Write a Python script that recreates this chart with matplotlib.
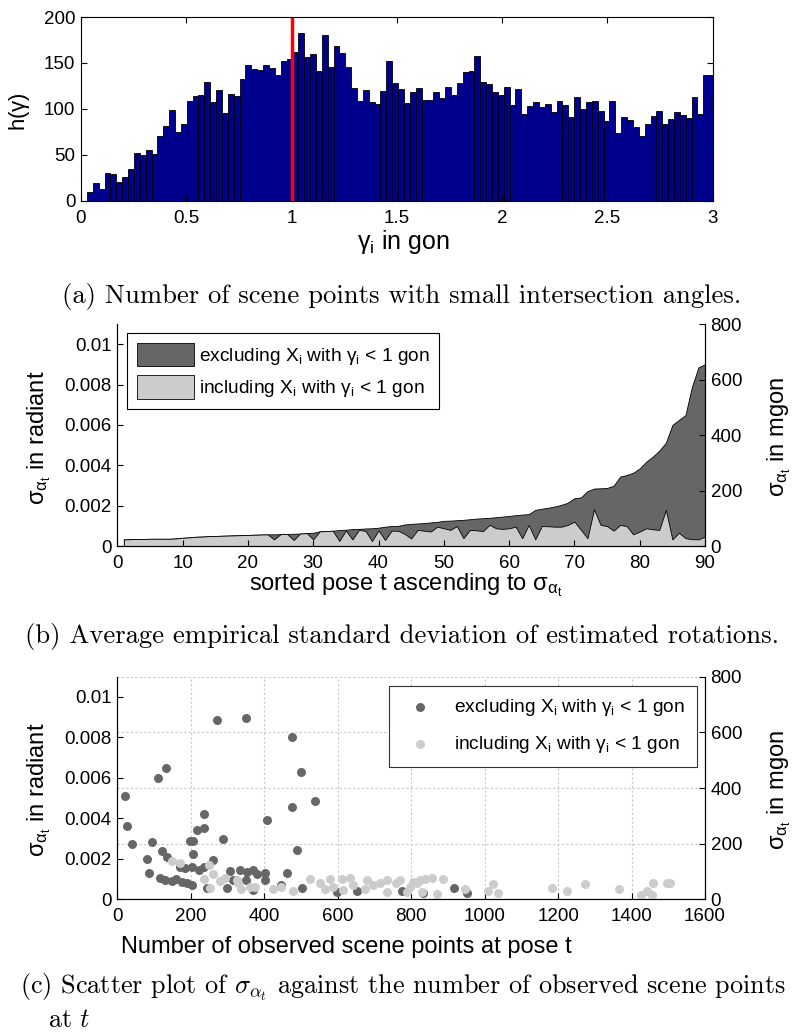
import numpy as np
import matplotlib
matplotlib.use('Agg')
import matplotlib.pyplot as plt
from matplotlib.ticker import FuncFormatter

plt.rcParams['font.family'] = ['Liberation Sans', 'DejaVu Sans']
plt.rcParams['mathtext.fontset'] = 'custom'
plt.rcParams['mathtext.rm'] = 'Liberation Sans'
plt.rcParams['mathtext.it'] = 'Liberation Sans:italic'

# (a) histogram of intersection angles gamma_i (gon)
hist_start = 0.0284
hist_width = 0.02788
hist_counts = [10, 19, 13, 30, 29, 20, 26, 35, 52, 50,
               55, 51, 71, 81, 99, 75, 83, 109, 114, 115,
               129, 107, 121, 96, 116, 114, 133, 148, 143, 142,
               148, 144, 137, 152, 154, 162, 183, 157, 160, 141,
               180, 146, 169, 161, 146, 123, 109, 121, 107, 105,
               119, 152, 128, 122, 106, 118, 123, 110, 110, 118,
               112, 124, 115, 128, 140, 141, 158, 129, 127, 118,
               115, 124, 104, 122, 94, 103, 107, 102, 105, 97,
               109, 104, 91, 113, 100, 108, 109, 98, 87, 109,
               74, 91, 88, 80, 70, 83, 92, 98, 84, 89,
               97, 93, 90, 113, 94, 137]

# (b) sorted poses, sigma in radiant
pose = np.arange(1, 91)
sigma_excl = [0.00033, 0.00034, 0.00035, 0.00035, 0.00036, 0.00036, 0.00036, 0.00036, 0.00038, 0.00041,
              0.00043, 0.00046, 0.00047, 0.00049, 0.00050, 0.00051, 0.00052, 0.00053, 0.00054, 0.00055,
              0.00056, 0.00057, 0.00058, 0.00058, 0.00059, 0.00060, 0.00061, 0.00062, 0.00064, 0.00066,
              0.00073, 0.00074, 0.00076, 0.00079, 0.00081, 0.00084, 0.00085, 0.00087, 0.00088, 0.00091,
              0.00096, 0.00099, 0.00100, 0.00107, 0.00110, 0.00112, 0.00114, 0.00117, 0.00120, 0.00125,
              0.00126, 0.00128, 0.00130, 0.00133, 0.00136, 0.00138, 0.00140, 0.00143, 0.00146, 0.00149,
              0.00153, 0.00156, 0.00158, 0.00179, 0.00185, 0.00190, 0.00196, 0.00204, 0.00215, 0.00237,
              0.00241, 0.00272, 0.00285, 0.00286, 0.00288, 0.00299, 0.00344, 0.00352, 0.00363, 0.00385,
              0.00418, 0.00443, 0.00473, 0.00512, 0.00600, 0.00625, 0.00649, 0.00790, 0.00886, 0.00901]
sigma_incl = [0.00033, 0.00034, 0.00035, 0.00035, 0.00036, 0.00036, 0.00036, 0.00036, 0.00038, 0.00041,
              0.00043, 0.00046, 0.00047, 0.00049, 0.00050, 0.00051, 0.00052, 0.00053, 0.00054, 0.00055,
              0.00056, 0.00057, 0.00058, 0.00033, 0.00059, 0.00060, 0.00030, 0.00062, 0.00064, 0.00033,
              0.00073, 0.00074, 0.00076, 0.00025, 0.00077, 0.00033, 0.00080, 0.00075, 0.00025, 0.00078,
              0.00030, 0.00076, 0.00076, 0.00060, 0.00038, 0.00080, 0.00076, 0.00072, 0.00096, 0.00088,
              0.00080, 0.00099, 0.00039, 0.00080, 0.00078, 0.00074, 0.00105, 0.00088, 0.00085, 0.00088,
              0.00096, 0.00039, 0.00105, 0.00033, 0.00099, 0.00098, 0.00096, 0.00096, 0.00105, 0.00121,
              0.00080, 0.00039, 0.00182, 0.00105, 0.00099, 0.00076, 0.00105, 0.00099, 0.00058, 0.00072,
              0.00088, 0.00083, 0.00080, 0.00179, 0.00033, 0.00066, 0.00039, 0.00034, 0.00033, 0.00047]

# (c) number of observed scene points vs sigma
n_excl = [21, 27, 41, 82, 87, 95, 111, 132, 122, 134,
          116, 130, 148, 159, 171, 184, 175, 189, 202, 198,
          207, 207, 216, 236, 236, 202, 223, 236, 261, 243,
          271, 287, 298, 307, 334, 352, 370, 379, 402, 402,
          349, 316, 349, 370, 408, 463, 475, 475, 499, 488,
          538, 447, 502, 597, 652, 774, 833, 917, 951]
s_excl = [0.00512, 0.00364, 0.00273, 0.00201, 0.00132, 0.00283, 0.00599, 0.00651, 0.00239, 0.00207,
          0.00107, 0.00095, 0.00092, 0.00099, 0.00161, 0.00153, 0.00087, 0.00079, 0.00071, 0.00290,
          0.00290, 0.00225, 0.00342, 0.00350, 0.00424, 0.00161, 0.00145, 0.00158, 0.00194, 0.00054,
          0.00885, 0.00298, 0.00054, 0.00140, 0.00145, 0.00137, 0.00145, 0.00125, 0.00128, 0.00095,
          0.00898, 0.00095, 0.00095, 0.00046, 0.00393, 0.00128, 0.00454, 0.00800, 0.00627, 0.00242,
          0.00485, 0.00071, 0.00054, 0.00038, 0.00043, 0.00043, 0.00033, 0.00054, 0.00033]
n_incl = [150, 171, 236, 250, 261, 252, 279, 293, 325, 329,
          338, 361, 375, 425, 447, 479, 524, 552, 579, 565,
          588, 611, 633, 615, 642, 679, 674, 697, 715, 733,
          733, 760, 797, 815, 770, 806, 824, 838, 856, 888,
          788, 829, 869, 947, 1010, 1024, 1037, 1183, 1223, 1273,
          1367, 1427, 1441, 1455, 1459, 1496, 1505]
s_incl = [0.00191, 0.00178, 0.00099, 0.00169, 0.00125, 0.00054, 0.00092, 0.00104, 0.00095, 0.00079,
          0.00049, 0.00059, 0.00059, 0.00049, 0.00062, 0.00043, 0.00099, 0.00079, 0.00099, 0.00049,
          0.00059, 0.00099, 0.00104, 0.00046, 0.00071, 0.00095, 0.00049, 0.00071, 0.00079, 0.00095,
          0.00038, 0.00079, 0.00062, 0.00079, 0.00095, 0.00087, 0.00095, 0.00099, 0.00104, 0.00100,
          0.00038, 0.00038, 0.00026, 0.00049, 0.00043, 0.00076, 0.00030, 0.00058, 0.00043, 0.00074,
          0.00051, 0.00021, 0.00043, 0.00021, 0.00079, 0.00079, 0.00082]

lbl_excl = r'excluding X$\mathregular{_i}$ with $\mathregular{\gamma_i}$ < 1 gon'
lbl_incl = r'including X$\mathregular{_i}$ with $\mathregular{\gamma_i}$ < 1 gon'
sig_lbl = r'$\mathregular{\sigma_{\alpha_t}}$'

TICK = 13.5
LAB = 17
LEG = 13.8
fmt = FuncFormatter(lambda v, p: '%g' % v)

fig = plt.figure(figsize=(8.04, 10.33), dpi=100)


def style(ax, **kw):
    ax.tick_params(direction='in', length=4.5, width=0.8, labelsize=TICK, pad=4, **kw)
    ax.tick_params(axis='x', pad=6.5)
    for s in ax.spines.values():
        s.set_linewidth(0.8)


# ---- (a)
ax = fig.add_axes([0.1007, 0.8057, 0.7857, 0.1778])
edges = np.append(hist_start + hist_width * np.arange(len(hist_counts)), 3.0)
ax.bar(edges[:-1], hist_counts, width=np.diff(edges), align='edge',
       color='#00008f', edgecolor='k', linewidth=0.6)
ax.axvline(1.0, color='red', lw=2.5)
ax.set_xlim(0, 3)
ax.set_ylim(0, 200)
ax.set_xticks(np.arange(0, 3.01, 0.5))
ax.set_yticks(np.arange(0, 201, 50))
ax.xaxis.set_major_formatter(fmt)
style(ax, top=True, right=True)
ax.set_xlabel(r'$\mathregular{\gamma_i}$ in gon', fontsize=18)
ax.set_ylabel(r'h($\mathregular{\gamma}$)', fontsize=16)
ax.xaxis.set_label_coords(0.51, -0.15)
ax.yaxis.set_label_coords(-0.078, 0.484)

# ---- (b)
ax = fig.add_axes([0.1459, 0.4714, 0.731, 0.2149])
h1 = ax.fill_between(pose, sigma_excl, facecolor='#666666', edgecolor='k', linewidth=0.6, label=lbl_excl)
h2 = ax.fill_between(pose, sigma_incl, facecolor='#cccccc', edgecolor='k', linewidth=0.6, label=lbl_incl)
ax.set_xlim(0, 90)
ax.set_ylim(0, 0.011)
ax.set_xticks(np.arange(0, 91, 10))
ax.set_yticks(np.arange(0, 0.0101, 0.002))
ax.yaxis.set_major_formatter(fmt)
style(ax)
ax.spines['top'].set_visible(False)
ax.set_xlabel('sorted pose t ascending to ' + sig_lbl, fontsize=LAB)
ax.set_ylabel(sig_lbl + ' in radiant', fontsize=LAB)
ax.xaxis.set_label_coords(0.49, -0.115)
ax.yaxis.set_label_coords(-0.109, 0.486)
leg = ax.legend(handles=[h1, h2], loc='upper left', bbox_to_anchor=(0.0165, 0.959),
                fontsize=LEG, handlelength=3.0, handleheight=1.5, handletextpad=0.25,
                labelspacing=0.45, borderpad=0.5, borderaxespad=0, fancybox=False, framealpha=1)
leg.get_frame().set_edgecolor('k')
leg.get_frame().set_linewidth(0.8)
ax2 = ax.twinx()
ax2.set_ylim(0, 800)
ax2.set_yticks(np.arange(0, 801, 200))
style(ax2)
ax2.spines['top'].set_visible(False)
ax2.set_ylabel(sig_lbl + ' in mgon', fontsize=LAB)
ax2.yaxis.set_label_coords(1.102, 0.489)

# ---- (c)
ax = fig.add_axes([0.1459, 0.1294, 0.731, 0.2155])
ax2 = ax.twinx()
ax.set_zorder(ax2.get_zorder() + 1)
ax.patch.set_visible(False)
ax.scatter(n_excl, s_excl, s=42, color='#666666', linewidths=0, label=lbl_excl)
ax.scatter(n_incl, s_incl, s=42, color='#cccccc', linewidths=0, label=lbl_incl)
ax.set_xlim(0, 1600)
ax.set_ylim(0, 0.011)
ax.set_xticks(np.arange(0, 1601, 200))
ax.set_yticks(np.arange(0, 0.0101, 0.002))
ax.yaxis.set_major_formatter(fmt)
ax.set_axisbelow(True)
ax.grid(axis='x', color='#c8c8c8', linestyle=(0, (2, 2)), linewidth=0.8)
style(ax)
ax.spines['top'].set_visible(False)
ax.set_xlabel('Number of observed scene points at pose t', fontsize=LAB)
ax.set_ylabel(sig_lbl + ' in radiant', fontsize=LAB)
ax.xaxis.set_label_coords(0.39, -0.165)
ax.yaxis.set_label_coords(-0.109, 0.491)
leg = ax.legend(loc='upper right', bbox_to_anchor=(0.986, 0.96), fontsize=LEG,
                handletextpad=0.8, labelspacing=0.85, borderpad=0.6, borderaxespad=0,
                fancybox=False, framealpha=1, scatterpoints=1)
leg.get_frame().set_edgecolor('#333333')
leg.get_frame().set_linewidth(0.8)
ax2.set_ylim(0, 800)
ax2.set_yticks(np.arange(0, 801, 200))
ax2.grid(axis='y', color='#c8c8c8', linestyle=(0, (2, 2)), linewidth=0.8)
style(ax2)
ax2.spines['top'].set_visible(False)
ax2.set_ylabel(sig_lbl + ' in mgon', fontsize=LAB)
ax2.yaxis.set_label_coords(1.102, 0.493)

# ---- captions
CAP = 19.2
fig.text(0.5, 1 - 296 / 1033, '(a) Number of scene points with small intersection angles.',
         family='cmr10', fontsize=CAP, ha='center', va='center')
fig.text(0.5, 1 - 636 / 1033, '(b) Average empirical standard deviation of estimated rotations.',
         family='cmr10', fontsize=CAP, ha='center', va='center')
fig.text(20 / 804, 1 - 987 / 1033,
         r'(c) Scatter plot of $\sigma_{\alpha_t}$ against the number of observed scene points',
         family='cmr10', math_fontfamily='cm', fontsize=18.85, ha='left', va='center')
fig.text(48 / 804, 1 - 1020 / 1033, r'at $t$',
         family='cmr10', math_fontfamily='cm', fontsize=18.85, ha='left', va='center')

fig.savefig('out.png', dpi=100)
